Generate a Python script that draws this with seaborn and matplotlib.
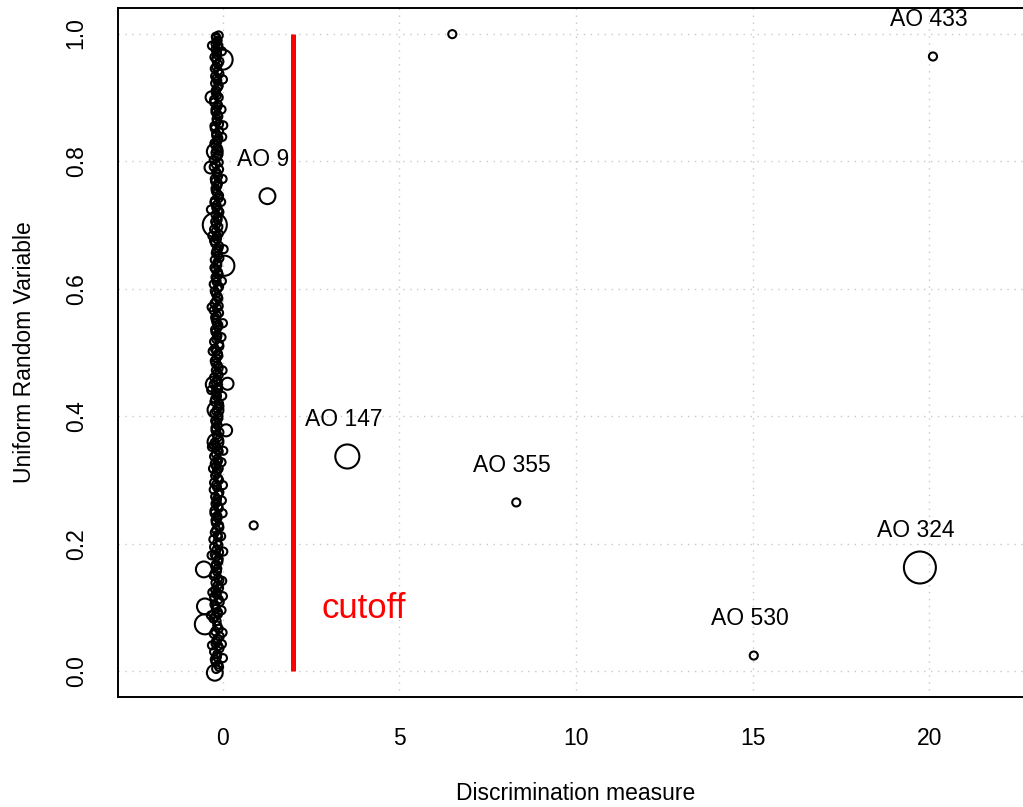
import numpy as np
import pandas as pd
import matplotlib
matplotlib.use("Agg")
import matplotlib.pyplot as plt
import seaborn as sns

# --- data ------------------------------------------------------------------
# dense column of small circles near zero (two interleaved passes)
col_y = [0.004, 0.011, 0.019, 0.027, 0.036, 0.044, 0.051, 0.059, 0.067, 0.079,
         0.086, 0.093, 0.102, 0.109, 0.117, 0.124, 0.131, 0.139, 0.146, 0.153,
         0.161, 0.168, 0.176, 0.183, 0.191, 0.198, 0.207, 0.214, 0.222, 0.229,
         0.237, 0.244, 0.252, 0.259, 0.266, 0.274, 0.281, 0.289, 0.296, 0.303,
         0.311, 0.318, 0.326, 0.333, 0.341, 0.348, 0.355, 0.363, 0.371, 0.378,
         0.386, 0.393, 0.401, 0.408, 0.416, 0.423, 0.431, 0.438, 0.446, 0.453,
         0.461, 0.468, 0.476, 0.483, 0.491, 0.498, 0.506, 0.513, 0.521, 0.528,
         0.536, 0.543, 0.551, 0.558, 0.566, 0.573, 0.581, 0.588, 0.596, 0.603,
         0.611, 0.618, 0.626, 0.633, 0.641, 0.648, 0.656, 0.663, 0.671, 0.678,
         0.686, 0.693, 0.701, 0.708, 0.716, 0.723, 0.731, 0.738, 0.746, 0.753,
         0.761, 0.768, 0.776, 0.783, 0.791, 0.798, 0.806, 0.813, 0.821, 0.828,
         0.836, 0.843, 0.851, 0.858, 0.866, 0.873, 0.881, 0.888, 0.896, 0.903,
         0.911, 0.918, 0.926, 0.933, 0.941, 0.948, 0.956, 0.963, 0.971, 0.978,
         0.984, 0.989, 0.993, 0.997]
col_x = [-0.18, -0.12, -0.22, -0.15, -0.09, -0.2, -0.14, -0.25, -0.11, -0.17,
         -0.21, -0.13, -0.19, -0.08, -0.24, -0.16, -0.1, -0.2, -0.13, -0.23,
         -0.15, -0.19, -0.11, -0.22, -0.17, -0.12, -0.26, -0.14, -0.18, -0.1,
         -0.2, -0.15, -0.23, -0.12, -0.17, -0.21, -0.09, -0.16, -0.24, -0.13,
         -0.18, -0.11, -0.22, -0.15, -0.19, -0.13, -0.25, -0.1, -0.17, -0.2,
         -0.14, -0.21, -0.12, -0.18, -0.09, -0.23, -0.16, -0.2, -0.13, -0.19,
         -0.24, -0.15, -0.11, -0.2, -0.17, -0.13, -0.22, -0.1, -0.18, -0.15,
         -0.21, -0.12, -0.19, -0.16, -0.25, -0.11, -0.18, -0.14, -0.22, -0.1,
         -0.17, -0.2, -0.13, -0.23, -0.15, -0.09, -0.19, -0.12, -0.21, -0.16,
         -0.11, -0.24, -0.18, -0.14, -0.2, -0.12, -0.17, -0.22, -0.1, -0.19,
         -0.15, -0.21, -0.13, -0.18, -0.25, -0.11, -0.16, -0.2, -0.14, -0.23,
         -0.12, -0.18, -0.22, -0.1, -0.17, -0.14, -0.2, -0.13, -0.24, -0.16,
         -0.19, -0.11, -0.15, -0.21, -0.13, -0.18, -0.09, -0.23, -0.16, -0.12,
         -0.2, -0.14, -0.18, -0.11]

col2_y = [0.007, 0.015, 0.023, 0.031, 0.040, 0.048, 0.055, 0.063, 0.072, 0.083,
          0.090, 0.098, 0.105, 0.113, 0.121, 0.128, 0.135, 0.143, 0.150, 0.157,
          0.165, 0.172, 0.180, 0.187, 0.195, 0.202, 0.211, 0.218, 0.226, 0.233,
          0.241, 0.248, 0.256, 0.263, 0.270, 0.278, 0.285, 0.293, 0.300, 0.307,
          0.315, 0.322, 0.330, 0.337, 0.345, 0.352, 0.359, 0.367, 0.375, 0.382,
          0.390, 0.397, 0.405, 0.412, 0.420, 0.427, 0.435, 0.442, 0.450, 0.457,
          0.465, 0.472, 0.480, 0.487, 0.495, 0.502, 0.510, 0.517, 0.525, 0.532,
          0.540, 0.547, 0.555, 0.562, 0.570, 0.577, 0.585, 0.592, 0.600, 0.607,
          0.615, 0.622, 0.630, 0.637, 0.645, 0.652, 0.660, 0.667, 0.675, 0.682,
          0.690, 0.697, 0.705, 0.712, 0.720, 0.727, 0.735, 0.742, 0.750, 0.757,
          0.765, 0.772, 0.780, 0.787, 0.795, 0.802, 0.810, 0.817, 0.825, 0.832,
          0.840, 0.847, 0.855, 0.862, 0.870, 0.877, 0.885, 0.892, 0.900, 0.907,
          0.915, 0.922, 0.930, 0.937, 0.945, 0.952, 0.960, 0.967, 0.975, 0.981,
          0.987, 0.995]
col2_x = [-0.1, -0.2, -0.16, -0.24, -0.12, -0.18, -0.08, -0.21, -0.15, -0.26,
          -0.13, -0.19, -0.23, -0.11, -0.17, -0.21, -0.14, -0.09, -0.25, -0.16,
          -0.2, -0.12, -0.18, -0.1, -0.24, -0.15, -0.13, -0.22, -0.09, -0.19,
          -0.14, -0.23, -0.11, -0.2, -0.16, -0.12, -0.25, -0.18, -0.1, -0.21,
          -0.15, -0.19, -0.13, -0.24, -0.11, -0.17, -0.22, -0.14, -0.09, -0.2,
          -0.18, -0.12, -0.23, -0.15, -0.1, -0.21, -0.17, -0.13, -0.25, -0.16,
          -0.11, -0.19, -0.14, -0.22, -0.12, -0.18, -0.09, -0.24, -0.15, -0.2,
          -0.13, -0.17, -0.21, -0.1, -0.16, -0.23, -0.12, -0.19, -0.14, -0.25,
          -0.18, -0.11, -0.2, -0.15, -0.22, -0.13, -0.17, -0.1, -0.24, -0.16,
          -0.19, -0.12, -0.21, -0.14, -0.09, -0.18, -0.23, -0.11, -0.16, -0.2,
          -0.13, -0.22, -0.15, -0.1, -0.19, -0.25, -0.12, -0.17, -0.21, -0.14,
          -0.18, -0.1, -0.23, -0.16, -0.12, -0.2, -0.15, -0.24, -0.11, -0.19,
          -0.14, -0.21, -0.17, -0.09, -0.22, -0.13, -0.18, -0.15, -0.2, -0.12,
          -0.16, -0.19]

# small circles poking out on either side of the column
edge_y = [0.972, 0.928, 0.881, 0.856, 0.838, 0.772, 0.736, 0.662, 0.612, 0.546,
          0.524, 0.472, 0.432, 0.346, 0.328, 0.292, 0.268, 0.248, 0.212, 0.188,
          0.142, 0.118, 0.096, 0.061, 0.043, 0.021,
          0.981, 0.724, 0.683, 0.571, 0.502, 0.441, 0.352, 0.318, 0.182, 0.124,
          0.088, 0.041]
edge_x = [-0.02, 0.01, -0.03, 0.02, -0.01, 0.0, -0.04, 0.03, -0.02, 0.01,
          -0.03, 0.0, -0.01, 0.02, -0.03, 0.01, -0.02, 0.0, -0.04, 0.02,
          -0.01, 0.01, -0.03, 0.0, -0.02, 0.01,
          -0.3, -0.33, -0.29, -0.31, -0.28, -0.32, -0.3, -0.27, -0.31, -0.29,
          -0.33, -0.3]

# larger circles inside the column
big_x = [0.0, -0.31, -0.34, -0.22, -0.22, 0.05, -0.25, -0.2, -0.2, 0.1, 0.14,
         -0.53, -0.5, -0.5, -0.22]
big_y = [0.959, 0.90, 0.79, 0.815, 0.70, 0.636, 0.45, 0.41, 0.36, 0.378, 0.451,
         0.16, 0.102, 0.074, -0.002]
big_w = [4, 2, 2, 3, 5, 4, 3, 3, 3, 2, 2, 3, 3, 4, 3]

# points away from the column
out_x = [1.27, 0.88, 3.53, 6.5, 8.31, 15.03, 19.73, 20.1]
out_y = [0.745, 0.229, 0.337, 0.999, 0.265, 0.025, 0.163, 0.964]
out_w = [3, 1, 5, 1, 1, 1, 6, 1]

labels = ["AO 9", "AO 147", "AO 355", "AO 530", "AO 324", "AO 433"]
label_x = [1.27, 3.53, 8.31, 15.03, 19.73, 20.1]
label_y = [0.745, 0.337, 0.265, 0.025, 0.163, 0.964]

cutoff = 2.0

# circle area per weight level (points^2)
size_map = {1: 34, 2: 75, 3: 130, 4: 210, 5: 300, 6: 530}

n_small = len(col_x) + len(col2_x) + len(edge_x)
df = pd.DataFrame({
    "x": col_x + col2_x + edge_x + big_x + out_x,
    "y": col_y + col2_y + edge_y + big_y + out_y,
    "w": [1] * n_small + big_w + out_w,
})

sns.set_style("white")
plt.rcParams["font.family"] = ["Liberation Sans", "DejaVu Sans"]
plt.rcParams["text.color"] = "black"
plt.rcParams["axes.labelcolor"] = "black"
plt.rcParams["xtick.color"] = "black"
plt.rcParams["ytick.color"] = "black"

fig = plt.figure(figsize=(10.23, 8.07), dpi=100)
ax = fig.add_axes([0.1153, 0.1363, 0.8955, 0.8538])

ax.set_xlim(-2.96, 22.96)
ax.set_ylim(-0.04, 1.04)

# R-style dotted grid
for gx in [0, 5, 10, 15, 20]:
    ax.axvline(gx, color="#c8c8c8", lw=1.0, ls=(0, (1, 4)), zorder=0)
for gy in [0.0, 0.2, 0.4, 0.6, 0.8, 1.0]:
    ax.axhline(gy, color="#c8c8c8", lw=1.0, ls=(0, (1, 4)), zorder=0)

sns.scatterplot(data=df, x="x", y="y", size="w", sizes=size_map,
                marker="o", facecolors="none", edgecolor="black",
                linewidth=1.5, legend=False, ax=ax, zorder=3)

ax.plot([cutoff, cutoff], [0, 1], color="red", lw=3.6, solid_capstyle="butt", zorder=2)
ax.text(4.0, 0.099, "cutoff", color="red", fontsize=25, ha="center", va="center")

for lab, lx, ly in zip(labels, label_x, label_y):
    ax.annotate(lab, (lx, ly), xytext=(-4, 37), textcoords="offset pixels",
                ha="center", va="center", fontsize=16.5)

ax.set_xticks([0, 5, 10, 15, 20])
ax.set_yticks([0.0, 0.2, 0.4, 0.6, 0.8, 1.0])
ax.set_yticklabels(["0.0", "0.2", "0.4", "0.6", "0.8", "1.0"], rotation=90, va="center")
ax.tick_params(axis="both", direction="out", length=10.8, width=1.3,
               labelsize=16.5, pad=11, color="black")

for sp in ax.spines.values():
    sp.set_linewidth(1.4)
    sp.set_color("black")

ax.set_xlabel("Discrimination measure", fontsize=16.5, labelpad=23)
ax.set_ylabel("Uniform Random Variable", fontsize=16.5, labelpad=21)

fig.savefig("out.png", dpi=100)
